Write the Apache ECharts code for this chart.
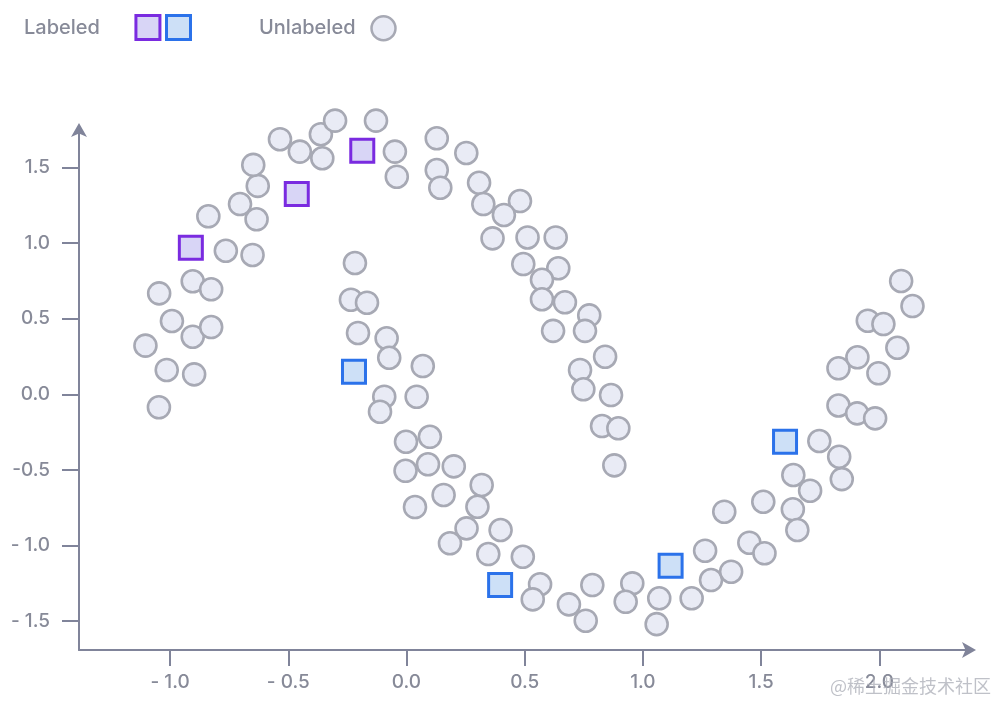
<!DOCTYPE html>
<html>
<head>
<meta charset="utf-8">
<script src="https://cdn.jsdelivr.net/npm/echarts@6/dist/echarts.min.js"></script>
<style>
  html, body { margin: 0; padding: 0; background: #ffffff; }
  #chart { width: 998px; height: 705px; }
</style>
</head>
<body>
<div id="chart"></div>
<script>
// ---- data ----
const labeledClassA = [
  [-0.912, 0.970], [-0.464, 1.326], [-0.187, 1.612]
];
const labeledClassB = [
  [-0.222, 0.150], [0.396, -1.262], [1.117, -1.134], [1.601, -0.314]
];
const unlabeledPoints = [
  [-1.104, 0.322], [-1.046, 0.668], [-1.014, 0.161], [-1.047, -0.086], [-0.992, 0.485],
  [-0.904, 0.748], [-0.826, 0.695], [-0.904, 0.381], [-0.826, 0.445], [-0.898, 0.132],
  [-0.838, 1.178], [-0.764, 0.950], [-0.704, 1.259], [-0.651, 0.922], [-0.634, 1.158],
  [-0.629, 1.379], [-0.648, 1.518], [-0.535, 1.688], [-0.451, 1.606], [-0.362, 1.721],
  [-0.302, 1.811], [-0.356, 1.562], [-0.129, 1.811], [-0.049, 1.606], [-0.041, 1.440],
  [0.128, 1.694], [0.128, 1.484], [0.143, 1.367], [0.253, 1.597], [0.307, 1.400],
  [0.325, 1.259], [0.480, 1.279], [0.412, 1.187], [0.364, 1.032], [0.512, 1.038],
  [0.631, 1.038], [0.494, 0.862], [0.642, 0.834], [0.573, 0.758], [0.573, 0.629],
  [0.670, 0.609], [0.773, 0.522], [0.755, 0.420], [0.620, 0.420], [0.840, 0.249],
  [0.734, 0.161], [0.748, 0.033], [0.865, -0.005], [0.827, -0.210], [0.896, -0.225],
  [0.879, -0.470],
  [-0.218, 0.869], [-0.235, 0.626], [-0.167, 0.606], [-0.205, 0.406], [-0.084, 0.371],
  [-0.073, 0.242], [0.069, 0.187], [-0.094, -0.016], [-0.112, -0.115], [0.043, -0.016],
  [-0.002, -0.314], [0.099, -0.281], [-0.004, -0.506], [0.091, -0.463], [0.200, -0.477],
  [0.157, -0.666], [0.036, -0.746], [0.318, -0.600], [0.300, -0.744], [0.254, -0.887],
  [0.184, -0.986], [0.398, -0.898], [0.346, -1.057], [0.492, -1.075], [0.565, -1.257],
  [0.534, -1.357], [0.687, -1.390], [0.786, -1.262], [0.758, -1.498], [0.955, -1.251],
  [0.927, -1.373], [1.069, -1.350], [1.058, -1.521], [1.206, -1.350], [1.263, -1.035],
  [1.288, -1.229], [1.373, -1.174], [1.344, -0.777], [1.450, -0.982], [1.514, -1.052],
  [1.509, -0.711], [1.636, -0.534], [1.707, -0.638], [1.634, -0.761], [1.653, -0.898],
  [1.746, -0.309], [1.830, -0.413], [1.841, -0.561], [1.827, -0.074], [1.906, -0.126],
  [1.982, -0.159], [1.827, 0.172], [1.907, 0.245], [1.996, 0.139], [1.951, 0.487],
  [2.017, 0.465], [2.076, 0.308], [2.092, 0.750], [2.140, 0.584]
];
const xTickValues = [-1, -0.5, 0, 0.5, 1, 1.5, 2];
const xTickLabels = ['- 1.0', '- 0.5', '0.0', '0.5', '1.0', '1.5', '2.0'];
const yTickValues = [-1.5, -1, -0.5, 0, 0.5, 1, 1.5];
const yTickLabels = ['- 1.5', '- 1.0', '-0.5', '0.0', '0.5', '1.0', '1.5'];
const seriesNames = ['Unlabeled', 'Labeled A', 'Labeled B'];

// ---- style ----
const axisColor = '#80849a';
const textColor = '#878a98';
const fontFamily = 'Inter, "Noto Sans", sans-serif';

function labelFor(values, labels) {
  return function (v) {
    for (let i = 0; i < values.length; i++) {
      if (Math.abs(values[i] - v) < 1e-9) return labels[i];
    }
    return '';
  };
}

const chart = echarts.init(document.getElementById('chart'), null, { renderer: 'canvas' });

const legendText = { color: textColor, fontSize: 20, fontWeight: 500, fontFamily: fontFamily };

chart.setOption({
  backgroundColor: '#ffffff',
  animation: false,
  grid: { left: 79, right: 29, top: 130, bottom: 55, containLabel: false },
  legend: [
    {
      data: [seriesNames[1]],
      formatter: function () { return 'Labeled'; },
      align: 'right',
      left: 19, top: 9,
      itemWidth: 24, itemHeight: 24,
      icon: 'rect',
      itemStyle: { borderWidth: 3 },
      textStyle: Object.assign({ padding: [7, 31, 0, 0] }, legendText),
      selectedMode: false
    },
    {
      data: [seriesNames[2]],
      formatter: function () { return ''; },
      left: 160, top: 9,
      itemWidth: 24, itemHeight: 24,
      icon: 'rect',
      itemStyle: { borderWidth: 3 },
      textStyle: legendText,
      selectedMode: false
    },
    {
      data: [seriesNames[0]],
      align: 'right',
      left: 254, top: 10,
      itemWidth: 24, itemHeight: 24,
      icon: 'circle',
      itemStyle: { borderWidth: 2.5 },
      textStyle: Object.assign({ padding: [7, 11, 0, 0] }, legendText),
      selectedMode: false
    }
  ],
  xAxis: {
    type: 'value',
    min: -1.385, max: 2.379,
    splitLine: { show: false },
    axisLine: {
      show: true, onZero: false,
      symbol: ['none', 'arrow'], symbolSize: [12, 14], symbolOffset: [0, 7],
      lineStyle: { color: axisColor, width: 2 }
    },
    axisTick: {
      show: true, length: 16, inside: false,
      customValues: xTickValues,
      lineStyle: { color: axisColor, width: 2 }
    },
    axisLabel: {
      customValues: xTickValues,
      formatter: labelFor(xTickValues, xTickLabels),
      margin: 23,
      color: textColor, fontSize: 19, fontWeight: 500, fontFamily: fontFamily
    }
  },
  yAxis: {
    type: 'value',
    min: -1.692, max: 1.749,
    splitLine: { show: false },
    axisLine: {
      show: true, onZero: false,
      symbol: ['none', 'arrow'], symbolSize: [12, 14], symbolOffset: [0, 7],
      lineStyle: { color: axisColor, width: 2 }
    },
    axisTick: {
      show: true, length: 17, inside: false,
      customValues: yTickValues,
      lineStyle: { color: axisColor, width: 2 }
    },
    axisLabel: {
      customValues: yTickValues,
      formatter: labelFor(yTickValues, yTickLabels),
      margin: 29,
      color: textColor, fontSize: 19, fontWeight: 500, fontFamily: fontFamily
    }
  },
  series: [
    {
      name: seriesNames[0],
      type: 'scatter',
      clip: false,
      symbol: 'circle',
      symbolSize: 22,
      data: unlabeledPoints,
      itemStyle: { color: '#e9ebf5', borderColor: '#a7a9b4', borderWidth: 2.6, opacity: 1 },
      z: 2
    },
    {
      name: seriesNames[1],
      type: 'scatter',
      clip: false,
      symbol: 'rect',
      symbolSize: 23,
      data: labeledClassA,
      itemStyle: { color: '#d8d5f6', borderColor: '#7a2be0', borderWidth: 3, opacity: 1 },
      z: 3
    },
    {
      name: seriesNames[2],
      type: 'scatter',
      clip: false,
      symbol: 'rect',
      symbolSize: 23,
      data: labeledClassB,
      itemStyle: { color: '#cde0f7', borderColor: '#2b72ea', borderWidth: 3, opacity: 1 },
      z: 3
    }
  ],
  graphic: [
    {
      type: 'text',
      right: 7,
      top: 677,
      z: 100,
      style: {
        text: '@稀土掘金技术社区',
        fill: 'rgba(170,172,182,0.75)',
        font: '400 18px "Noto Sans CJK SC", sans-serif'
      }
    }
  ]
});
</script>
</body>
</html>
